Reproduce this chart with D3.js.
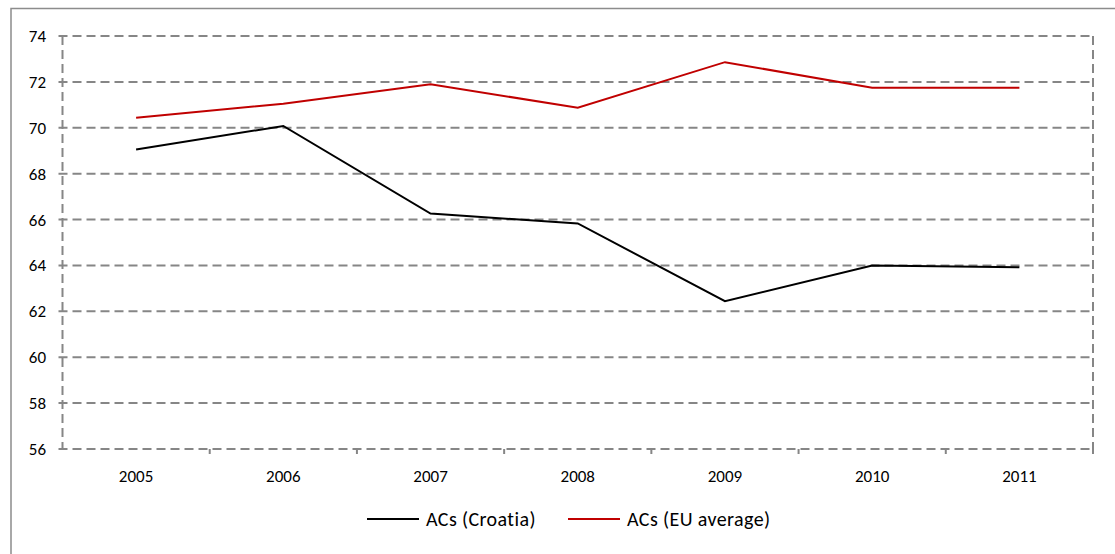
<!DOCTYPE html>
<html><head><meta charset="utf-8">
<script src="https://cdn.jsdelivr.net/npm/d3@7"></script>
<style>
body{margin:0;background:#fff;}
text{font-family:Carlito,Calibri,"Open Sans","Liberation Sans",sans-serif;fill:#000;}
</style></head>
<body><svg id="c" width="1115" height="554"></svg>
<script>
const years = ["2005","2006","2007","2008","2009","2010","2011"];
const croatia = [69.05, 70.08, 66.26, 65.83, 62.44, 64.0, 63.92];
const euAverage = [70.44, 71.05, 71.9, 70.87, 72.86, 71.74, 71.74];
const yTicks = [56,58,60,62,64,66,68,70,72,74];
const seriesNames = ["ACs (Croatia)", "ACs (EU average)"];
const seriesColors = ["#000000", "#c00000"];

const svg = d3.select("#c");
const L = 62.5, R = 1093, T = 36, B = 449;
const x = d3.scaleBand().domain(years).range([L, R]).padding(0);
const y = d3.scaleLinear().domain([56, 74]).range([B, T]);
const gridCol = "#868686", dash = "9,5";

// outer border
svg.append("rect").attr("x",11).attr("y",8.5).attr("width",1130).attr("height",560)
  .attr("fill","none").attr("stroke","#8c8c8c").attr("stroke-width",1.5);

// horizontal gridlines (including top and bottom)
svg.append("g").selectAll("line").data(yTicks).join("line")
  .attr("x1", L-4).attr("x2", R).attr("y1", d=>y(d)).attr("y2", d=>y(d))
  .attr("stroke", gridCol).attr("stroke-width", 2).attr("stroke-dasharray", dash);
// vertical borders
[L, R].forEach(xx => svg.append("line").attr("x1",xx).attr("x2",xx).attr("y1",T).attr("y2",B)
  .attr("stroke",gridCol).attr("stroke-width",2).attr("stroke-dasharray",dash));

// x tick marks at band boundaries
const bounds = years.map(d=>x(d)).concat([R]);
svg.append("g").selectAll("line").data(bounds.slice(1)).join("line")
  .attr("x1", d=>d).attr("x2", d=>d).attr("y1", B).attr("y2", B+5)
  .attr("stroke", gridCol).attr("stroke-width", 2);

// y labels
svg.append("g").selectAll("text").data(yTicks).join("text")
  .attr("x", 46).attr("y", d=>y(d)).attr("dy","0.35em").attr("text-anchor","end")
  .attr("font-size", 17).text(d=>d);
// x labels
svg.append("g").selectAll("text").data(years).join("text")
  .attr("x", d=>x(d)+x.bandwidth()/2).attr("y", 476).attr("dy","0.35em").attr("text-anchor","middle")
  .attr("font-size", 17).text(d=>d);

const line = d3.line().x((d,i)=>x(years[i])+x.bandwidth()/2).y(d=>y(d));
[croatia, euAverage].forEach((s,i)=>{
  svg.append("path").datum(s).attr("d", line).attr("fill","none")
    .attr("stroke", seriesColors[i]).attr("stroke-width", 2);
});

// legend
const legX = [367, 568];
seriesNames.forEach((n,i)=>{
  svg.append("line").attr("x1",legX[i]).attr("x2",legX[i]+52).attr("y1",519).attr("y2",519)
    .attr("stroke",seriesColors[i]).attr("stroke-width",2);
  svg.append("text").attr("x",legX[i]+59).attr("y",519).attr("dy","0.35em")
    .attr("font-size",20).attr("letter-spacing",0.4).text(n);
});
</script></body></html>
